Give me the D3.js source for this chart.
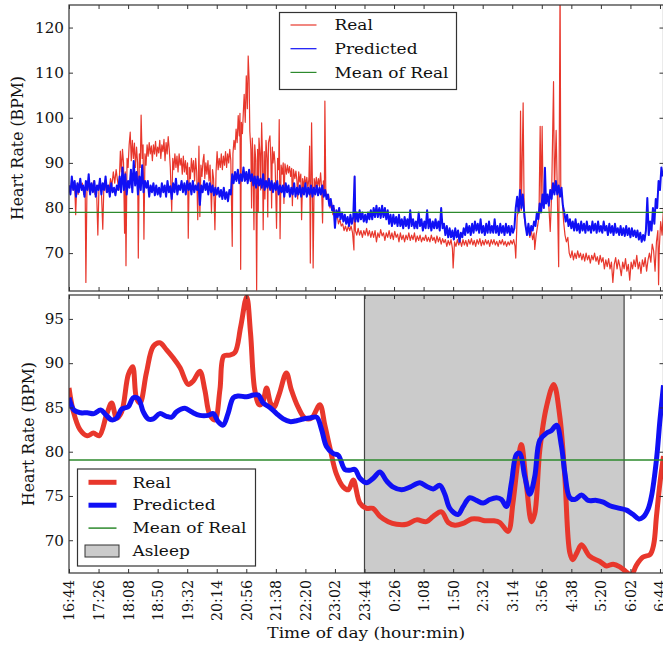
<!DOCTYPE html>
<html>
<head>
<meta charset="utf-8">
<script src="https://cdn.jsdelivr.net/npm/d3@7"></script>
<style>
  body { margin: 0; background: #fff; }
  svg { display: block; font-family: "DejaVu Serif", serif; }
</style>
</head>
<body>
<div id="chart"></div>
<script>
// x tick labels (clock time, hour:min)
const timeTicks = ["16:44", "17:26", "18:08", "18:50", "19:32", "20:14", "20:56", "21:38", "22:20", "23:02",
    "23:44", "0:26", "1:08", "1:50", "2:32", "3:14", "3:56", "4:38", "5:20", "6:02", "6:44"];
// y ticks of both panels
const topYTicks = [70, 80, 90, 100, 110, 120];
const bottomYTicks = [70, 75, 80, 85, 90, 95];
// mean of the real heart rate
const meanOfReal = 79.05;
// sleeping period
const asleepFrom = "23:44";
const asleepTo = "5:53";

// raw readings: [minutes after 16:44, bpm]
const rawReal = [[0,85],[2,83.5],[4,86],[6,84],[8,85.5],[9.5,78.5],[11,85],[13,83],[15,86],[17,84.5],[19,85.5],[21,83],[23,84],[24,63.5],[25.5,84],[27,86],[29,83.5],[31,85],[33,84],[35,86],[37,83],[39,85],[41,74],[42.5,84],[44,86.5],[46,84],[48,75.3],[49.5,84.5],[51,86],[53,83.5],[55,85],[57,84],[59,86.5],[61,85],[63,88],[65,85.5],[67,88.5],[69,86],[71,84],
    [73,92.6],[74.5,88],[76,93],[77.5,90],[79,74.4],[80,88],[81,67.2],[82.5,91],[84,89],[85.5,94],[87,96.8],[88.5,90.5],[90,95],[91.5,91],[93,94.4],[94.5,89],[96,93.5],[97.5,90],[98.5,68.9],[100,92],[101.3,89],[102.5,100.6],[104,91],[105.3,94],[106.5,73.1],[108,92],[109.5,89.5],[111,94],
    [112.5,91.5],[114,94.5],[115.5,92],[117,93.8],[118.5,90.5],[120,94],[121.5,92],[123,94.8],[124.5,91.5],[126,93.5],[127.5,92.2],[129,95],[130.5,91],[132,94],[133.5,92.5],[135,95.2],[136.5,90.5],[138,94.5],[139.5,92],[141,95.8],[142.5,93],[144,89],
    [146,79.3],[147.5,91],[149,88.5],[150.5,92],[152,89],[153.5,91.5],[155,88],[156.5,92],[158,89.5],[159.5,91],[161,87.5],[162.5,91.5],[164,88],[165.5,90.5],[167,87.5],
    [168.5,90],[169.5,73.3],[171,89],[172.5,86.5],[174,91],[175.5,88],[177,90.5],[178.5,86],[180,91],[181.5,88],[183,77.4],[184.7,93.7],[186,78.1],[187.5,89.5],[189,87],[190.5,90.5],[191.8,91.9],[193,86.5],[194.5,90],[196,87.5],[197.5,90.5],[199,86],[200.5,89.5],[202.5,78.9],[204,88.5],[205.5,86.5],[207.4,75.2],[209,88],
    [210.5,92.5],[212,88.5],[213.5,91],[215,89],[216.5,92],[218,88.5],[219.5,91.5],[221,89.5],[222.5,92.5],[224,89],[225.5,92],[227,90],[228.5,93],[230,90.5],[232,71.5],
    [233,92],[234.5,95],[236,93],[237.5,97.5],[239,94.5],[240.5,100.5],[242,96],[243,101],[244,66.4],[245,99],[246.5,96.5],[248,102],[249,105.2],[250.5,99],[252,109.3],[253.5,102],[254.7,113.7],[256,108.5],[257,97],
    [258.5,93],[259.5,80],[260.5,95.5],[261.5,91],[262.9,75.2],[264,94],[265.5,90.5],[266.7,61.8],[268,93],[269,79],[270,95.5],[271.5,92],[272.5,84],[273.8,98.9],[275,91.5],[276,75.2],[277.5,92.5],[278.5,82],[280,95],[281.5,91],[282.5,78],[283.5,94.5],[285.6,96],[287,90],[288,80],[289,93.5],[290,90],[291.5,92.5],[293,89.5],[295,75.5],[296.5,91],[298,88.5],[298.8,99.6],[300,73.2],
    [301.5,89.5],[303,87.5],[304.5,90],[305.5,81],[307,89.8],[309,87.5],[310.5,89.5],[312,87.8],[313.5,89.2],[315,87],[316.5,88.8],[317.5,80.5],[319,88.5],[321,86.5],[322.5,88.2],[324,86],[325,82],[326.5,88],[328,85.8],[329.5,87.5],[330.6,77.4],
    [332,86.5],[333.5,84.5],[335,87],[336.5,85],[338,86.8],[339.5,84.5],[341,86.5],[342,93.7],[343,67.8],[344,86],[344.8,98.9],[346,85],[347,66.7],[348.5,86.5],[350,84.5],[351.5,86.8],[353,84.5],[354.5,86.5],[356,84.8],[357.6,87.8],[359,84.5],[360.4,76.7],[361.5,86],[363,84],[363.7,103.7],[365,84],
    [367,82],[369,83],[371,80],[373,81.5],[375,78.5],[377,80],[379,77.5],[381,78.5],[383,76.5],[385,77.5],[387,76],[389,76.5],[391,75],[393,76],[395,74.8],[397,76],[399,75],[401,76],[403,74.5],[405,70.7],[405.8,87],[407,75],[409,74],[411,75.5],[413,74],[415,75],[417,73.5],[419,75],[421,74],[423,75.5],[425,73.8],[427,75],[429,73.5],[431,74.8],[433,73.5],[435,75],[437,72.5],[439,74.5],[441,73.5],[443,75.2],[445,73.8],[447,74.5],[449,72.8],[451,74.5],[453,73.5],[455,75],[457,73.2],[459,74.5],[461,73],[463,74.8],[465,73.5],[467,74.2],[469,72.5],[471,74.5],[473,73],[475,74],[477,72.5],[479,74],[481,73],[483,74.5],[485,72.8],[487,74],[489,73],[491,74.5],[493,72.5],[495,73.8],[497,72.8],[499,74],[501,72.5],[503,73.5],[505,72.8],[507,74],[509,72.6],[511,73.5],[513,72.5],[515,74],[517,72.8],[519,73.5],[521,72.2],[523,73.8],[525,72.5],[527,73.5],[529,72],[531,73.2],[533,72.3],[535,73],[537,71.5],[539,72.8],[541,71.8],[543,73],[545,71],[546,66.7],[548,72.5],[550,71.5],[552,73],[554,71.8],[556,72.8],[558,71.5],[560,73],[562,71.8],[564,72.8],[566,71.5],[568,73],[570,72],[572,73.2],[574,71.8],[576,72.8],[578,71.5],[580,73],[582,72],[584,73.2],[586,71.6],[588,72.8],[590,71.8],[592,73],[594,72],[596,72.8],[598,71.5],[600,73],[602,72],[604,73],[606,71.8],[608,72.6],[610,71.5],[612,72.8],[614,72],[616,73],[618,71.8],[620,72.6],[622,71.5],[624,72.5],[626,71.8],[628,72.8],[630,72],[632,73],[634,71.5],[635,68.9],[637,78],[639,80],[640.5,79],[641.8,101.5],[643,79.5],[645.5,103.3],[647,78],[649,76],[651,74.5],[653,75.5],[655,73.5],[657,75],[659,73],[661,74.5],[662,70.8],[664,74],[666,76],[668,78],[669.7,98.1],[671,81],[672.5,98.1],[674,80],[676,82],[678,81],[680,82.5],[682,80.5],[684,74.8],[686,83],[688.7,108],[690,83.5],[692.4,97.2],[694,84],[696,67],[698,130],[699,84],[701,82],[703,77],[705,74],[707,72.5],[709,73.5],[711,70],[713,69],[715,70.5],[717,68.5],[719,70],[721,68.8],[723,70.5],[725,69],[727,70],[729,68.5],[731,69.8],[733,68.2],[735,70],[737,68.5],[739,69.5],[741,67.8],[743,69.5],[745,68.5],[747,70],[749,68.2],[751,69.2],[753,67.5],[755,69.5],[757,68],[759,69],[761,66.5],[763,68.5],[765,67],[767,68.8],[769,66.5],[771,68],[773,63.5],[775,67.5],[777,69],[779,66.5],[781,68.5],[783,67],[785,65],[787,68],[789,66.5],[791,68.8],[793,66],[795,67.5],[797,64],[799,68],[801,66.5],[803,68.5],[805,67],[807,69.5],[809,66.5],[811,68],[813,65.5],[815,68.5],[817,67],[819,69],[821,66],[823,68.5],[825,70],[827,68],[829,72],[831,70.5],[833,66],[835,72.5],[837,75],[838,63],[839,71],[841,77],[843,74],[845,80]];

const rawPredicted = [[0,85],[2,83],[4,87],[6,84],[8,86],[10,82.5],[12,85.5],[14,83.5],[16,86.5],[18,84],[20,85],[22,82.5],[24,86],[26,84],[28,87.5],[30,83],[32,85.5],[34,83.5],[36,86],[38,82.5],[40,85],[42,84],[44,86.5],[46,83],[48,85.5],[50,84],[52,87],[54,83.5],[56,85],[58,82.5],[60,85.5],[62,83.5],[64,84.5],[66,82.8],[68,85],[70,84],[72,87],[74,83.5],[76,89],[78,84],[80,87.5],[82,83],[84,86],[86,84.5],[88,88.5],[90,83.5],[92,90.4],[94,85],[96,88],[98,83],[100,87],[102,84],[104,89.5],[106,83.5],[108,86],[110,84.5],[112,86],[114,82.5],[116,85],[118,83.5],[120,85.5],[122,82.8],[124,85],[126,83],[128,84.5],[130,82.5],[132,85.5],[134,83.5],[136,85],[138,82.5],[140,86],[142,83.5],[144,84.8],[146,82],[148,85.5],[150,83.5],[152,86.5],[154,83],[156,85],[158,84],[160,86],[162,83.5],[164,85.5],[166,83],[168,86],[170,84],[172,85.5],[174,83],[176,86],[178,83.5],[180,85],[182,84],[184,85.5],[186,80.7],[188,85],[190,83.5],[192,86],[194,84],[196,85.5],[198,83],[200,85.5],[202,83.5],[204,85],[206,82.8],[208,84.5],[210,83],[212,84.5],[214,82.5],[216,84],[218,82],[220,84.5],[222,82],[224,83.5],[226,81.5],[228,84],[230,83],[232,87.5],[234,85.5],[236,88],[238,86],[240,88.5],[242,85.5],[244,87.5],[246,86],[248,89],[250,86],[252,88],[254,85.5],[256,88.5],[258,86],[260,87.5],[262,85],[264,87],[266,84.5],[268,87],[270,85],[272,86.5],[274,84.5],[276,87.5],[278,84],[280,86],[282,84.5],[284,86.5],[286,84],[288,86],[290,83.5],[292,85.5],[294,84],[296,86],[298,83],[300,85],[302,83.5],[304,85],[306,82.5],[308,85.5],[310,83.5],[312,85],[314,82.5],[316,84.5],[318,83],[320,85.5],[322,82.5],[324,84.5],[326,83],[328,85],[330,82.5],[332,84.5],[334,83],[336,85.5],[338,82.5],[340,84.5],[342,83],[344,85],[346,82.5],[348,84.5],[350,83],[352,85],[354,82.8],[356,84.5],[358,83],[360,85],[362,82.5],[364,84],[366,82],[368,83],[370,80.5],[372,82],[374,79.5],[376,80.5],[378,75.6],[380,79.5],[382,78],[384,80],[386,77.5],[388,79],[390,77],[392,78.5],[394,76.5],[396,78],[398,76],[400,78.5],[402,76.5],[404,78],[406,87],[407,77],[409,79],[411,77],[413,79.5],[415,77.5],[417,79],[419,77],[421,78.5],[423,76.8],[425,79],[427,77.5],[429,79.5],[431,77.5],[433,80],[435,78],[437,80.5],[439,78],[441,80],[443,77.8],[445,80.5],[447,78],[449,80],[451,77.5],[453,79.5],[455,76.5],[457,78.5],[459,76],[461,78.5],[463,76.5],[465,78],[467,76],[469,78.5],[471,76],[473,77.5],[475,75.5],[477,78],[479,76],[481,77.5],[483,75.5],[485,79.5],[487,76],[489,77.5],[491,75.5],[493,77],[495,75.5],[497,79],[499,76],[501,77.5],[503,75],[505,77],[507,75.5],[509,79.5],[511,75.5],[513,77.5],[515,75],[517,77],[519,75.5],[521,77.5],[523,75.5],[525,77],[527,75],[529,80],[531,75.5],[533,76.5],[535,74],[537,76],[539,73.5],[541,75.5],[543,73.5],[545,75],[547,73],[549,75.5],[551,73.5],[553,75],[555,72.5],[557,74.5],[559,73.5],[561,75.5],[563,74],[565,76.5],[567,74.5],[569,76],[571,74],[573,76.5],[575,74.5],[577,77],[579,75],[581,76.5],[583,74.5],[585,77.5],[587,74.5],[589,76],[591,74],[593,76.5],[595,74.5],[597,77],[599,74.5],[601,76],[603,74.5],[605,77.5],[607,74.5],[609,76],[611,74],[613,76.5],[615,74.5],[617,76],[619,74],[621,76.5],[623,74.5],[625,76],[627,74],[629,76],[631,74.5],[633,75.5],[635,80],[637,82.5],[639,79],[641,84],[643,80],[645,83],[647,79],[649,76],[651,74],[653,76.5],[655,74],[657,76],[659,75],[661,77],[663,76],[665,79],[667,77.5],[669,81],[671,79],[673,83],[675,80],[676.5,88.9],[678,81],[680,83],[682,80.5],[684,84],[686,82],[688,85.5],[690,83],[692,86],[694,83],[696,85],[698,82.5],[700,84.5],[702,80.5],[704,79],[706,77],[708,78.5],[710,76],[712,77.5],[714,75.5],[716,77],[718,75],[720,77.5],[722,75],[724,76.5],[726,74.5],[728,77],[730,75],[732,76.5],[734,74.5],[736,77],[738,75],[740,76],[742,74.5],[744,77],[746,75],[748,76.5],[750,74.5],[752,77],[754,74.8],[756,76],[758,74.5],[760,77],[762,75],[764,76],[766,74],[768,76.5],[770,74.5],[772,76],[774,74],[776,76.5],[778,74.5],[780,75.5],[782,74],[784,76],[786,74],[788,75.5],[790,73.8],[792,76],[794,74],[796,75.5],[798,73.5],[800,75.5],[802,73.8],[804,75],[806,73.5],[808,75],[810,73],[812,74.5],[814,72.5],[816,74],[818,72.8],[820,75],[822,82.2],[824,74],[826,77],[828,75],[830,80],[832,76.5],[834,82],[836,80],[838,86],[840,84],[842,89],[844,87]];

// smoothed curves: [minutes after 16:44, bpm]
const smoothReal = [[0,87.2],[6,84.6],[15.6,82.5],[26,81.8],[34.6,82.1],[43,81.8],[53.5,84.2],[60.6,85.5],[67.7,83.8],[74.8,84.5],[84.3,88.7],[90.5,89.6],[96,86],[101,85.5],[110,88.9],[119.8,91.9],[129,92.3],[138.7,91.5],[148,90.6],[157.7,89.5],[169.5,87.6],[176.6,88],[186,89.1],[193,87],[200,84.2],[207.4,83.6],[214.5,87],[220,90.8],[227.8,90.9],[235.8,91.2],[244,94.1],[252.5,97.5],[258,93.4],[264,87],[270.4,85.3],[275,85.5],[280.8,87.2],[286.4,85.5],[291,85],[298.8,86.5],[309,88.9],[316,87],[325.8,85],[335.3,83.8],[344.8,83.8],[356.5,85.3],[363.6,83],[370.7,80.5],[380,77.5],[390,76],[397,75.7],[404,76.8],[413.5,74.2],[423,73.6],[432,73.6],[442,72.7],[453.7,72.1],[465.6,71.8],[479.8,71.8],[494,72.3],[508,72.1],[517.7,72.7],[529.5,73.2],[539,72],[548.5,71.7],[560,71.9],[572,72.4],[581.6,72.4],[591,72.2],[602.9,72.2],[612.4,72],[624,71],[631,74.2],[638.4,79.1],[643,80.8],[650.3,76.1],[657.4,72.1],[662,73],[669.2,80.2],[678.7,85.1],[689,87.6],[697.6,84],[704.7,77.2],[711.8,68.6],[716,67.8],[722,68.6],[728.5,69.5],[740,68.2],[754.5,67.6],[764,67.1],[773.4,67.3],[783,67],[792.4,66.4],[799.5,66.1],[806.6,67.2],[816,68.1],[826,68.4],[831,69.5],[835,72.7],[840,76.5],[845,79.5]];

const smoothPredicted = [[0,86.1],[7,84.7],[16.5,84.4],[26,84.4],[35.5,84.3],[45,84.7],[52,84.2],[60.6,83.6],[67.7,83.8],[74.8,84.8],[84.3,85.1],[91.4,86.1],[98.5,86],[105.6,84.5],[112.7,83.7],[119.8,83.7],[129,84.3],[138.7,84],[146,83.9],[152.8,84.5],[164.8,84.9],[174,84.5],[186,84.1],[198,84.1],[205,84.3],[212,83.4],[219,83],[226,84.3],[233.5,86.1],[240.6,86.3],[252.5,86.2],[262,86.4],[269,86.4],[276.2,85.5],[285.6,85],[295,84.3],[304.5,83.7],[314,83.4],[323.5,83.5],[333,83.7],[342.4,83.8],[352,83.9],[359,82.5],[366,80.6],[375.6,79.8],[382.7,79.6],[392,78],[399,77.9],[406.4,78],[413.5,77],[423,76.5],[432.5,77],[442,77.7],[451.4,76.7],[461,76],[472.7,75.7],[484.6,76],[498.8,76.5],[508,76.1],[517.7,75.8],[527,76.2],[534.2,75.2],[541.3,73.6],[553,72.9],[560.2,73.8],[569.6,74.8],[579,74.5],[588.6,74.2],[598,74.6],[607.6,74.8],[614.7,74.6],[621.8,73.8],[628.9,76.5],[636,79.7],[640.8,79.8],[647.8,77.2],[655,75.2],[662,77.2],[669.2,81.3],[678.7,82.1],[685.8,82.4],[693,83],[700,80.6],[704.8,77.6],[711.8,74.8],[719,74.6],[728.5,75.1],[738,74.5],[749.8,74.5],[759.3,74.3],[768.8,73.9],[783,73.6],[792.4,73.4],[802,72.9],[810,72.4],[816,72.6],[823,73.5],[828,75],[835,79.1],[840,83.6],[845,87.5]];

// colours
const realColor = "#e8372c";
const predColor = "#1010f5";
const meanColor = "#2d8a2d";
const textColor = "#111";

// "h:mm" -> minutes after 16:44
function clockToMinutes(s) {
    const [h, m] = s.split(":").map(Number);
    let v = h * 60 + m - (16 * 60 + 44);
    if (v < 0) v += 1440;
    return v;
}

const width = 663, height = 645;
const left = 69, right = 663.5;
const baseFont = 15;
// panel boxes
const topPanel = { top: 5, bottom: 291, domain: [61.6, 125], ticks: topYTicks };
const bottomPanel = { top: 295, bottom: 573, domain: [66.3, 97.7], ticks: bottomYTicks };

const svg = d3.select("#chart").append("svg")
    .attr("width", width)
    .attr("height", height);
svg.append("rect").attr("width", width).attr("height", height).attr("fill", "#fff");

// measure a text at the base size (used to match the picture's text widths)
function measure(str) {
    const t = svg.append("text").attr("font-size", baseFont).text(str);
    const w = t.node().getComputedTextLength();
    t.remove();
    return w;
}
const titleStretch = 198 / measure("Time of day (hour:min)");
const legendStretch = 114 / measure("Mean of Real");
const yTickStretch = 29 / measure("120");
const xTickFont = baseFont * 41 / measure("16:44");
const yLabelFont = baseFont * 144 / measure("Heart Rate (BPM)");

// horizontal text, squeezed/stretched along x only
function hText(parent, x, y, str, stretch, anchor) {
    return parent.append("text")
        .attr("transform", `translate(${x},${y}) scale(${stretch},1)`)
        .attr("text-anchor", anchor || "start")
        .attr("dy", "0.35em")
        .attr("font-size", baseFont)
        .attr("fill", textColor)
        .text(str);
}

// shared time scale
const x = d3.scaleLinear().domain([0, 845]).range([left, right]);
const tickMinutes = timeTicks.map(clockToMinutes);

// draw one panel frame with inward ticks
function drawFrame(p, y, showXLabels) {
    const g = svg.append("g");
    // left axis with labels
    g.append("g")
        .attr("transform", `translate(${left},0)`)
        .call(d3.axisLeft(y).tickValues(p.ticks).tickSizeInner(-4).tickSizeOuter(0).tickPadding(5))
        .call(a => a.select(".domain").remove())
        .call(a => a.selectAll("text")
            .attr("font-size", baseFont).attr("font-family", "DejaVu Serif").attr("fill", textColor)
            .attr("x", -5 / yTickStretch)
            .attr("transform", `scale(${yTickStretch},1)`));
    // right axis, ticks only
    g.append("g")
        .attr("transform", `translate(${right},0)`)
        .call(d3.axisRight(y).tickValues(p.ticks).tickSizeInner(-4).tickSizeOuter(0).tickFormat(""))
        .call(a => a.select(".domain").remove());
    // top axis, ticks only
    g.append("g")
        .attr("transform", `translate(0,${p.top})`)
        .call(d3.axisTop(x).tickValues(tickMinutes).tickSizeInner(-4).tickSizeOuter(0).tickFormat(""))
        .call(a => a.select(".domain").remove());
    // bottom axis
    const bx = g.append("g")
        .attr("transform", `translate(0,${p.bottom})`)
        .call(d3.axisBottom(x).tickValues(tickMinutes).tickSizeInner(-4).tickSizeOuter(0)
            .tickFormat((d, i) => showXLabels ? timeTicks[i] : ""))
        .call(a => a.select(".domain").remove());
    if (showXLabels) {
        bx.selectAll("text")
            .attr("transform", "rotate(-90)")
            .attr("x", -7)
            .attr("y", 0)
            .attr("dy", "0.35em")
            .attr("text-anchor", "end")
            .attr("font-size", xTickFont)
            .attr("font-family", "DejaVu Serif")
            .attr("fill", textColor);
    }
    g.selectAll(".tick line").attr("stroke", "#333");
    // frame
    g.append("rect")
        .attr("x", left).attr("y", p.top)
        .attr("width", right - left).attr("height", p.bottom - p.top)
        .attr("fill", "none").attr("stroke", "#333").attr("stroke-width", 1.2);
}

// clip path for a panel
function makeClip(id, p) {
    svg.append("clipPath").attr("id", id)
        .append("rect")
        .attr("x", left).attr("y", p.top)
        .attr("width", right - left).attr("height", p.bottom - p.top);
}
makeClip("clipTop", topPanel);
makeClip("clipBottom", bottomPanel);

// ---------- top panel: raw ----------
const yTop = d3.scaleLinear().domain(topPanel.domain).range([topPanel.bottom, topPanel.top]);
const topLine = d3.line().x(d => x(d[0])).y(d => yTop(d[1]));
const gTop = svg.append("g").attr("clip-path", "url(#clipTop)");
gTop.append("path").datum(rawReal)
    .attr("d", topLine).attr("fill", "none")
    .attr("stroke", realColor).attr("stroke-width", 1.2).attr("stroke-linejoin", "round");
gTop.append("path").datum(rawPredicted)
    .attr("d", topLine).attr("fill", "none")
    .attr("stroke", predColor).attr("stroke-width", 2).attr("stroke-linejoin", "round");
gTop.append("line")
    .attr("x1", left).attr("x2", right)
    .attr("y1", yTop(meanOfReal)).attr("y2", yTop(meanOfReal))
    .attr("stroke", meanColor).attr("stroke-width", 1.2);
drawFrame(topPanel, yTop, false);

// ---------- bottom panel: smoothed ----------
const yBot = d3.scaleLinear().domain(bottomPanel.domain).range([bottomPanel.bottom, bottomPanel.top]);
const botLine = d3.line().x(d => x(d[0])).y(d => yBot(d[1])).curve(d3.curveCatmullRom.alpha(0.5));
const gBot = svg.append("g").attr("clip-path", "url(#clipBottom)");
// asleep band
gBot.append("rect")
    .attr("x", x(clockToMinutes(asleepFrom)))
    .attr("y", bottomPanel.top)
    .attr("width", x(clockToMinutes(asleepTo)) - x(clockToMinutes(asleepFrom)))
    .attr("height", bottomPanel.bottom - bottomPanel.top)
    .attr("fill", "#cbcbcb").attr("stroke", "#444").attr("stroke-width", 1.2);
gBot.append("path").datum(smoothReal)
    .attr("d", botLine).attr("fill", "none")
    .attr("stroke", realColor).attr("stroke-width", 5).attr("stroke-linejoin", "round");
gBot.append("path").datum(smoothPredicted)
    .attr("d", botLine).attr("fill", "none")
    .attr("stroke", predColor).attr("stroke-width", 5).attr("stroke-linejoin", "round");
gBot.append("line")
    .attr("x1", left).attr("x2", right)
    .attr("y1", yBot(meanOfReal)).attr("y2", yBot(meanOfReal))
    .attr("stroke", meanColor).attr("stroke-width", 1.5);
drawFrame(bottomPanel, yBot, true);

// ---------- axis titles ----------
svg.append("text")
    .attr("transform", `translate(17,${(topPanel.top + topPanel.bottom) / 2}) rotate(-90)`)
    .attr("text-anchor", "middle").attr("dy", "0.35em")
    .attr("font-size", yLabelFont).attr("fill", textColor)
    .text("Heart Rate (BPM)");
svg.append("text")
    .attr("transform", `translate(28,${(bottomPanel.top + bottomPanel.bottom) / 2}) rotate(-90)`)
    .attr("text-anchor", "middle").attr("dy", "0.35em")
    .attr("font-size", yLabelFont).attr("fill", textColor)
    .text("Heart Rate (BPM)");
hText(svg, (left + right) / 2, 633, "Time of day (hour:min)", titleStretch, "middle");

// ---------- legends ----------
function drawLegend(box, rows) {
    const g = svg.append("g");
    g.append("rect")
        .attr("x", box.x).attr("y", box.y).attr("width", box.w).attr("height", box.h)
        .attr("fill", "#fff").attr("stroke", "#333").attr("stroke-width", 1.2);
    rows.forEach((r, i) => {
        const cy = box.y + box.first + i * box.step;
        if (r.patch) {
            g.append("rect")
                .attr("x", box.x + 7.5).attr("y", cy - 6)
                .attr("width", 34).attr("height", 12)
                .attr("fill", "#cbcbcb").attr("stroke", "#333").attr("stroke-width", 1);
        } else {
            g.append("line")
                .attr("x1", box.x + box.lx1).attr("x2", box.x + box.lx2)
                .attr("y1", cy).attr("y2", cy)
                .attr("stroke", r.color).attr("stroke-width", r.width);
        }
        hText(g, box.x + box.tx, cy, r.label, legendStretch);
    });
}
drawLegend({ x: 279.5, y: 12.5, w: 177, h: 77, first: 12.5, step: 23.7, lx1: 11, lx2: 37, tx: 55 }, [
    { label: "Real", color: realColor, width: 1.2 },
    { label: "Predicted", color: predColor, width: 1.2 },
    { label: "Mean of Real", color: meanColor, width: 1.2 }
]);
drawLegend({ x: 77.5, y: 469, w: 178, h: 97, first: 13.3, step: 22.9, lx1: 11, lx2: 39, tx: 55 }, [
    { label: "Real", color: realColor, width: 5 },
    { label: "Predicted", color: predColor, width: 5 },
    { label: "Mean of Real", color: meanColor, width: 1.5 },
    { label: "Asleep", patch: true }
]);
</script>
</body>
</html>
